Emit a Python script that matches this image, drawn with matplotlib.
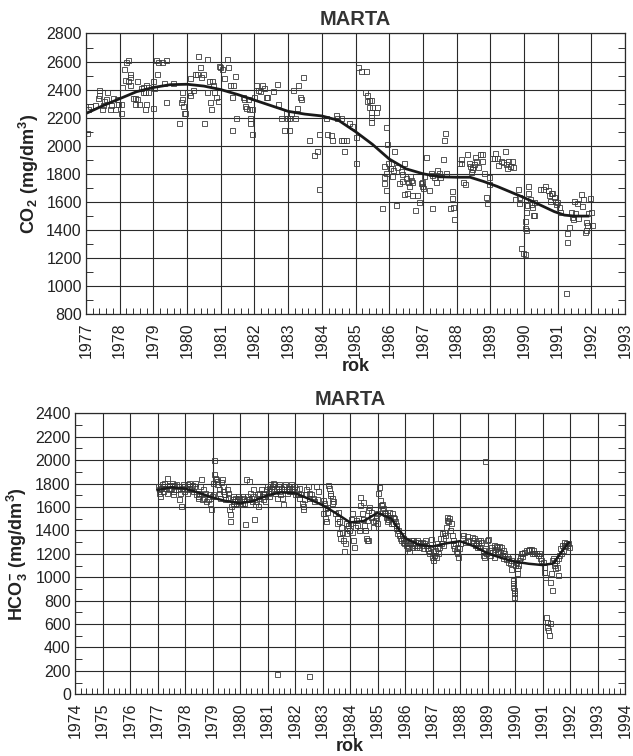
import numpy as np
import matplotlib
matplotlib.use("Agg")
import matplotlib.pyplot as plt
from matplotlib.ticker import MultipleLocator

plt.rcParams['font.family'] = ['Liberation Sans', 'DejaVu Sans']
plt.rcParams['mathtext.fontset'] = 'custom'
plt.rcParams['mathtext.rm'] = 'Liberation Sans'
plt.rcParams['mathtext.bf'] = 'Liberation Sans:bold'

co2_obs = [
    (1977.04,2090),(1977.07,2260),(1977.12,2280),(1977.27,2290),(1977.39,2400),(1977.40,2360),(1977.36,2340),
    (1977.46,2260),(1977.49,2290),(1977.59,2330),(1977.63,2380),(1977.53,2320),(1977.71,2260),(1977.73,2290),
    (1977.86,2260),(1977.81,2340),(1977.91,2330),(1977.96,2300),(1978.03,2300),(1978.03,2230),(1978.06,2420),
    (1978.13,2550),(1978.16,2470),(1978.19,2600),(1978.25,2610),(1978.25,2460),(1978.30,2510),(1978.32,2490),
    (1978.32,2430),(1978.38,2340),(1978.44,2340),(1978.45,2300),(1978.52,2460),(1978.50,2330),(1978.58,2300),
    (1978.62,2410),(1978.68,2420),(1978.70,2380),(1978.76,2380),(1978.78,2430),(1978.83,2380),(1978.76,2260),
    (1978.77,2300),(1978.85,2420),(1978.98,2460),(1979.00,2270),(1979.01,2410),(1979.09,2610),(1979.11,2510),
    (1979.14,2600),(1979.27,2600),(1979.36,2610),(1979.31,2450),(1979.36,2310),(1979.57,2450),(1979.76,2160),
    (1979.81,2310),(1979.84,2380),(1979.86,2330),(1979.88,2280),(1979.90,2230),(1979.94,2230),(1980.05,2380),
    (1980.08,2480),(1980.10,2360),(1980.18,2400),(1980.24,2510),(1980.28,2510),(1980.33,2640),(1980.38,2560),
    (1980.41,2490),(1980.46,2510),(1980.50,2160),(1980.58,2620),(1980.60,2380),(1980.65,2460),(1980.67,2310),
    (1980.71,2260),(1980.73,2460),(1980.77,2430),(1980.80,2380),(1980.87,2350),(1980.92,2320),(1980.95,2570),
    (1980.99,2560),(1981.05,2550),(1981.09,2480),(1981.17,2620),(1981.22,2560),(1981.27,2430),(1981.32,2350),
    (1981.34,2110),(1981.37,2430),(1981.42,2500),(1981.46,2200),(1981.66,2350),(1981.68,2330),(1981.72,2280),
    (1981.76,2270),(1981.81,2330),(1981.84,2260),(1981.88,2200),(1981.88,2160),(1981.92,2080),(1981.94,2260),
    (1981.98,2350),(1982.04,2430),(1982.11,2400),(1982.16,2390),(1982.23,2430),(1982.27,2410),(1982.33,2350),
    (1982.37,2350),(1982.55,2390),(1982.67,2440),(1982.70,2300),(1982.80,2200),(1982.87,2110),(1982.93,2230),
    (1982.97,2200),(1983.02,2110),(1983.04,2200),(1983.09,2230),(1983.14,2400),(1983.19,2200),(1983.26,2270),
    (1983.29,2430),(1983.34,2350),(1983.39,2330),(1983.44,2490),(1983.62,2040),(1983.78,1930),(1983.85,1960),
    (1983.91,1690),(1983.93,2080),(1984.15,2080),(1984.11,2200),
    (1984.26,2077),(1984.31,2041),(1984.41,2220),(1984.46,2196),(1984.56,2196),(1984.56,2041),(1984.63,2041),
    (1984.71,2041),(1984.65,1965),(1984.81,2160),(1984.91,2137),(1985.00,2060),(1985.00,1880),(1985.08,2564),
    (1985.15,2536),(1985.30,2536),(1985.27,2386),(1985.33,2362),(1985.35,2322),(1985.40,2327),(1985.45,2327),
    (1985.40,2279),(1985.50,2279),(1985.65,2279),(1985.45,2243),(1985.60,2243),(1985.45,2208),(1985.47,2172),
    (1985.89,2132),(1985.94,2013),(1986.15,1965),(1985.84,1856),(1985.97,1875),(1986.04,1880),(1986.01,1839),
    (1985.89,1804),(1985.84,1775),(1985.84,1733),(1985.89,1686),(1986.11,1827),(1986.09,1785),(1986.24,1846),
    (1986.34,1822),(1986.39,1799),(1986.44,1880),(1986.29,1737),(1986.39,1751),(1986.51,1768),(1986.57,1744),
    (1986.59,1709),(1986.63,1785),(1986.66,1756),(1986.68,1744),(1986.44,1654),(1986.54,1661),(1986.68,1649),
    (1986.83,1649),(1986.88,1601),(1986.78,1542),(1986.93,1733),(1986.98,1744),(1986.96,1709),(1987.00,1697),
    (1987.03,1785),(1987.08,1918),(1987.18,1686),(1987.23,1808),(1987.28,1792),(1987.33,1775),(1987.38,1744),
    (1987.42,1827),(1987.47,1804),(1987.52,1780),(1987.59,1906),(1987.70,1804),(1986.19,1578),(1985.78,1554),
    (1987.28,1554),(1987.62,2041),(1987.65,2089),
    (1987.85,1677),(1987.85,1624),(1987.90,1565),(1987.80,1553),(1987.93,1475),(1988.08,1874),(1988.13,1874),
    (1988.13,1903),(1988.20,1743),(1988.26,1727),(1988.30,1941),(1988.36,1874),(1988.40,1855),(1988.42,1815),
    (1988.45,1831),(1988.47,1850),(1988.52,1869),(1988.55,1917),(1988.59,1891),(1988.65,1846),(1988.69,1941),
    (1988.75,1941),(1988.75,1893),(1988.82,1807),(1988.87,1636),(1988.89,1589),(1988.95,1727),(1988.97,1774),
    (1989.05,1910),(1989.12,1910),(1989.15,1950),(1989.21,1910),(1989.24,1862),(1989.31,1893),(1989.38,1881),
    (1989.44,1964),(1989.46,1869),(1989.51,1838),(1989.54,1893),(1989.58,1855),(1989.64,1893),(1989.68,1846),
    (1989.74,1617),(1989.81,1689),(1989.84,1636),(1989.86,1589),(1989.91,1268),(1989.98,1232),(1990.03,1227),
    (1990.03,1465),(1990.07,1399),(1990.03,1411),(1990.07,1529),(1990.10,1577),(1990.13,1712),(1990.13,1665),
    (1990.17,1617),(1990.20,1584),(1990.23,1565),(1990.27,1506),(1990.30,1506),(1990.30,1601),(1990.47,1689),
    (1990.57,1689),(1990.63,1712),(1990.70,1684),(1990.75,1648),(1990.77,1608),(1990.80,1665),(1990.84,1660),
    (1990.89,1636),(1990.92,1608),(1990.96,1584),(1990.99,1601),(1991.04,1560),(1991.06,1529),(1991.24,947),
    (1991.29,1375),(1991.34,1422),(1991.29,1316),(1991.39,1529),(1991.44,1489),(1991.46,1475),(1991.49,1608),
    (1991.52,1522),(1991.56,1593),(1991.61,1482),(1991.68,1655),(1991.71,1570),(1991.75,1617),(1991.83,1399),
    (1991.81,1387),(1991.83,1458),(1991.88,1434),(1991.91,1517),(1991.95,1624),(1991.98,1529),(1992.01,1434),
]

co2_trend_years = [1977.0, 1977.5, 1978.0, 1978.5, 1979.0, 1979.5, 1980.0, 1980.5, 1981.0, 1981.5,
                   1982.0, 1982.5, 1983.0, 1983.5, 1984.0, 1984.5, 1985.0, 1985.5, 1986.0, 1986.5,
                   1987.0, 1987.5, 1988.0, 1988.4, 1988.8, 1989.2, 1989.6, 1990.0, 1990.5, 1990.9,
                   1991.2, 1991.5, 1991.9]
co2_trend = [2230, 2285, 2335, 2385, 2415, 2435, 2438, 2425, 2400, 2365,
             2325, 2285, 2245, 2225, 2212, 2180, 2100, 2010, 1905, 1835,
             1800, 1778, 1775, 1775, 1745, 1710, 1670, 1630, 1575, 1530,
             1505, 1498, 1498]

# --- HCO3- observations (year, mg/dm3) ---
hco3_obs = [
    (1977.00,1778),(1977.04,1750),(1977.06,1721),(1977.08,1693),(1977.12,1764),(1977.16,1792),(1977.21,1735),
    (1977.24,1807),(1977.28,1764),(1977.33,1849),(1977.36,1721),(1977.40,1784),(1977.42,1750),(1977.49,1764),
    (1977.52,1807),(1977.55,1707),(1977.57,1735),(1977.61,1784),(1977.64,1755),(1977.67,1792),(1977.73,1750),
    (1977.76,1778),(1977.79,1670),(1977.81,1721),(1977.85,1607),(1977.89,1764),(1977.91,1792),(1977.95,1735),
    (1977.98,1778),(1978.03,1750),(1978.06,1792),(1978.09,1721),(1978.13,1764),(1978.15,1807),(1978.21,1750),
    (1978.25,1784),(1978.30,1735),(1978.33,1778),(1978.37,1807),(1978.40,1707),(1978.46,1693),(1978.49,1679),
    (1978.52,1721),(1978.54,1778),(1978.58,1835),(1978.61,1664),(1978.64,1750),(1978.70,1679),(1978.74,1721),
    (1978.78,1650),(1978.82,1664),(1978.86,1707),(1978.91,1636),(1978.94,1579),(1978.98,1693),(1979.00,1807),
    (1979.03,1707),(1979.06,2000),(1979.06,1878),(1979.10,1849),(1979.12,1841),(1979.16,1821),(1979.18,1792),
    (1979.22,1750),(1979.25,1721),(1979.28,1679),(1979.31,1812),(1979.34,1835),(1979.37,1778),(1979.39,1735),
    (1979.43,1707),(1979.46,1670),(1979.51,1750),(1979.55,1721),(1979.58,1687),(1979.61,1579),(1979.63,1536),
    (1979.65,1479),(1979.67,1607),(1979.71,1664),(1979.73,1636),(1979.75,1693),(1979.79,1650),(1979.83,1679),
    (1979.85,1636),(1979.88,1664),(1979.91,1693),(1979.95,1650),(1979.97,1679),(1980.00,1622),(1980.03,1664),
    (1980.07,1636),(1980.09,1693),(1980.12,1679),(1980.16,1636),(1980.19,1451),(1980.22,1835),(1980.24,1693),
    (1980.28,1664),(1980.31,1821),(1980.34,1664),(1980.36,1721),(1980.40,1679),(1980.43,1650),(1980.46,1693),
    (1980.48,1750),(1980.52,1494),(1980.56,1622),(1980.58,1650),(1980.60,1707),(1980.64,1607),(1980.68,1679),
    (1980.70,1721),(1980.76,1750),(1980.80,1693),(1980.82,1721),(1980.85,1664),(1980.88,1707),(1980.92,1650),
    (1980.94,1750),(1980.97,1778),(1981.00,1721),(1981.04,1764),(1981.07,1693),(1981.09,1792),(1981.13,1735),
    (1981.16,1778),(1981.19,1807),(1981.21,1750),(1981.25,1792),(1981.28,1721),(1981.31,1764),(1981.34,1679),
    (1981.37,1778),(1981.41,1735),(1981.43,1792),(1981.45,1707),(1981.49,1764),(1981.53,1679),(1981.55,1622),
    (1981.58,1750),(1981.61,1778),(1981.65,1792),(1981.67,1750),(1981.70,1721),(1981.73,1778),(1981.77,1764),
    (1981.79,1735),(1981.85,1792),(1981.89,1764),(1981.94,1735),(1981.98,1778),(1982.01,1707),(1982.04,1750),
    (1982.10,1707),(1982.13,1679),(1982.16,1764),(1982.22,1707),(1982.25,1636),(1982.28,1607),(1982.30,1579),
    (1982.34,1664),(1982.38,1707),(1982.40,1750),(1982.46,1778),(1982.50,1721),(1982.52,1679),(1982.58,1707),
    (1982.64,1679),(1982.70,1650),(1982.76,1778),(1982.79,1664),(1982.83,1735),(1981.33,171),(1982.52,160),
    (1983.00,1661),(1983.05,1632),(1983.08,1589),(1983.02,1547),(1983.08,1504),(1983.12,1476),(1983.15,1561),
    (1983.17,1604),(1983.21,1789),(1983.24,1760),(1983.27,1723),(1983.29,1703),(1983.33,1675),(1983.36,1632),
    (1983.39,1655),(1983.45,1547),(1983.51,1504),(1983.53,1467),(1983.57,1561),(1983.61,1476),(1983.61,1376),
    (1983.63,1333),(1983.66,1433),(1983.70,1390),(1983.75,1319),(1983.78,1228),(1983.81,1291),(1983.85,1461),
    (1983.87,1376),(1983.90,1419),(1983.93,1447),(1983.97,1404),(1984.00,1467),(1984.02,1496),(1984.06,1547),
    (1984.09,1390),(1984.12,1319),(1984.14,1262),(1984.18,1433),(1984.21,1490),(1984.24,1447),(1984.30,1504),
    (1984.33,1404),(1984.36,1689),(1984.38,1618),(1984.42,1547),(1984.46,1646),(1984.48,1496),(1984.50,1447),
    (1984.54,1404),(1984.58,1333),(1984.60,1319),(1984.63,1490),(1984.66,1319),(1984.66,1575),(1984.70,1604),
    (1984.75,1561),(1984.78,1518),(1984.82,1476),(1984.85,1433),(1984.91,1490),(1984.94,1518),(1984.97,1461),
    (1984.99,1547),(1985.03,1717),(1985.05,1769),(1985.09,1661),(1985.11,1618),(1985.15,1575),(1985.18,1626),
    (1985.21,1589),(1985.23,1561),(1985.27,1547),(1985.31,1518),(1985.33,1476),(1985.35,1533),(1985.39,1496),
    (1985.43,1561),(1985.45,1518),(1985.48,1461),(1985.51,1547),(1985.55,1518),(1985.57,1461),(1985.60,1504),
    (1985.63,1476),(1985.67,1447),(1985.69,1419),(1985.72,1376),(1985.75,1404),(1985.79,1362),(1985.82,1333),
    (1985.84,1319),(1985.88,1362),(1985.91,1305),(1985.94,1333),(1985.96,1291),(1986.00,1319),(1986.03,1277),
    (1986.06,1248),(1986.08,1305),(1986.12,1262),(1986.16,1228),(1986.18,1291),(1986.20,1319),(1986.24,1262),
    (1986.28,1291),(1986.30,1319),(1986.33,1277),(1986.36,1305),(1986.40,1262),(1986.42,1319),(1986.45,1277),
    (1986.48,1305),(1986.52,1262),(1986.54,1291),(1986.60,1305),(1986.64,1277),(1986.67,1248),(1986.69,1291),
    (1986.73,1319),(1986.76,1277),(1986.79,1248),(1986.85,1234),(1986.88,1205),(1986.91,1262),(1986.93,1325),
    (1986.97,1177),(1987.00,1149),(1987.03,1220),(1987.05,1191),(1987.09,1234),(1987.13,1177),(1987.15,1248),
    (1987.17,1291),(1987.21,1205),(1987.25,1262),(1987.27,1333),(1987.30,1291),(1987.33,1376),(1987.37,1277),
    (1987.39,1333),(1987.42,1390),(1987.45,1362),(1987.49,1433),(1987.51,1490),(1987.54,1518),(1987.58,1476),
    (1987.61,1504),(1987.64,1404),(1987.66,1461),(1987.70,1362),(1987.73,1319),(1987.76,1277),(1987.78,1248),
    (1987.82,1291),(1987.85,1220),(1987.88,1262),(1987.90,1205),(1987.94,1177),(1987.98,1248),(1988.00,1291),
    (1988.06,1333),(1988.12,1362),(1988.18,1305),(1988.24,1348),(1988.30,1319),(1988.90,1993),
    (1988.42,1346),(1988.45,1317),(1988.49,1303),(1988.51,1331),(1988.54,1275),(1988.58,1289),(1988.61,1261),
    (1988.64,1317),(1988.66,1289),(1988.70,1261),(1988.73,1317),(1988.78,1303),(1988.82,1189),(1988.85,1232),
    (1988.88,1175),(1988.90,1246),(1988.94,1204),(1988.98,1317),(1989.02,1323),(1989.06,1232),(1989.10,1189),
    (1989.12,1261),(1989.18,1218),(1989.22,1275),(1989.24,1175),(1989.27,1238),(1989.30,1266),(1989.34,1204),
    (1989.36,1255),(1989.39,1227),(1989.42,1266),(1989.46,1218),(1989.49,1255),(1989.51,1189),(1989.55,1232),
    (1989.58,1161),(1989.61,1204),(1989.67,1153),(1989.70,1181),(1989.73,1133),(1989.75,1161),(1989.83,1118),
    (1989.85,1067),(1989.87,1147),(1989.91,948),(1989.93,919),(1989.95,891),(1989.96,862),(1989.97,834),
    (1989.92,976),(1990.00,1104),(1990.03,1133),(1990.07,1076),(1990.09,1033),(1990.12,1104),(1990.15,1147),
    (1990.19,1175),(1990.21,1204),(1990.24,1181),(1990.27,1209),(1990.31,1218),(1990.40,1232),(1990.46,1232),
    (1990.52,1238),(1990.58,1238),(1990.60,1209),(1990.64,1232),(1990.70,1204),(1990.76,1209),(1990.82,1189),
    (1990.88,1204),(1990.92,1161),(1990.94,1147),(1991.00,1133),(1991.04,1090),(1991.06,1047),(1991.09,1005),
    (1991.12,663),(1991.16,620),(1991.18,578),(1991.21,549),(1991.23,507),(1991.26,606),(1991.28,962),
    (1991.31,1033),(1991.33,891),(1991.33,1147),(1991.37,1161),(1991.40,1104),(1991.43,1133),(1991.45,1076),
    (1991.49,1147),(1991.52,1090),(1991.55,1019),(1991.57,1161),(1991.61,1189),(1991.65,1246),(1991.67,1209),
    (1991.71,1275),(1991.73,1232),(1991.77,1303),(1991.79,1275),(1991.82,1266),(1991.85,1289),(1991.89,1275),
    (1991.94,1295),(1991.97,1261),
]

hco3_trend_years = [1977.0, 1977.5, 1978.0, 1978.5, 1979.0, 1979.5, 1980.0, 1980.5, 1981.0, 1981.5,
                    1982.0, 1982.5, 1983.0, 1983.5, 1984.0, 1984.5, 1985.0, 1985.5, 1986.0, 1986.5,
                    1987.0, 1987.5, 1988.0, 1988.5, 1989.0, 1989.5, 1990.0, 1990.5, 1991.0, 1991.4,
                    1991.7, 1991.95]
hco3_trend = [1745, 1768, 1757, 1722, 1680, 1650, 1632, 1652, 1700, 1725,
              1718, 1670, 1615, 1545, 1468, 1480, 1550, 1500, 1335, 1278,
              1262, 1290, 1308, 1265, 1205, 1165, 1133, 1115, 1104, 1118,
              1218, 1295]


def style_axes(ax, x0, x1, y0, y1, ystep):
    ax.set_xlim(x0, x1)
    ax.set_ylim(y0, y1)
    ax.set_xticks(range(x0, x1 + 1))
    ax.set_xticklabels([str(y) for y in range(x0, x1 + 1)], rotation=90)
    ax.xaxis.set_minor_locator(MultipleLocator(0.2))
    ax.yaxis.set_major_locator(MultipleLocator(ystep))
    ax.yaxis.set_minor_locator(MultipleLocator(ystep / 2))
    ax.grid(True, which='major', color='#2a2a2a', linewidth=0.8)
    ax.tick_params(axis='y', which='major', direction='in', length=0,
                   labelsize=11.5, labelcolor='#222222', pad=3)
    ax.tick_params(axis='x', which='major', direction='in', length=0,
                   labelsize=11.5, labelcolor='#222222', pad=6)
    ax.tick_params(axis='x', which='minor', direction='in', length=4, width=0.7,
                   color='#333333', bottom=True, top=False)
    ax.tick_params(axis='y', which='minor', direction='in', length=5, width=0.7,
                   color='#333333', left=True, right=True)
    for s in ax.spines.values():
        s.set_color('#2a2a2a')
        s.set_linewidth(0.9)
    ax.set_axisbelow(True)


fig = plt.figure(figsize=(6.33, 7.56), dpi=100)

# --- CO2 panel ---
ax1 = fig.add_axes([0.1359, 0.5847, 0.8515, 0.371])
cx, cy = zip(*co2_obs)
ax1.plot(cx, cy, linestyle='none', marker='s', markersize=3.6, markerfacecolor='none',
         markeredgecolor='#3a3a3a', markeredgewidth=0.6)
ax1.plot(co2_trend_years, co2_trend, color='#1a1a1a', linewidth=2.0)
style_axes(ax1, 1977, 1993, 800, 2800, 200)
ax1.set_title('MARTA', fontsize=14.5, fontweight='bold', color='#333333', pad=6)
ax1.set_ylabel(r'$\mathbf{CO_2\ (mg/dm^3)}$', fontsize=13, color='#222222', labelpad=4)
ax1.set_xlabel('rok', fontsize=13, fontweight='bold', color='#222222', labelpad=0)

# --- HCO3 panel ---
ax2 = fig.add_axes([0.1185, 0.0816, 0.8689, 0.3717])
hx, hy = zip(*hco3_obs)
ax2.plot(hx, hy, linestyle='none', marker='s', markersize=3.6, markerfacecolor='none',
         markeredgecolor='#3a3a3a', markeredgewidth=0.6)
ax2.plot(hco3_trend_years, hco3_trend, color='#1a1a1a', linewidth=1.8)
style_axes(ax2, 1974, 1994, 0, 2400, 200)
ax2.set_title('MARTA', fontsize=14.5, fontweight='bold', color='#333333', pad=6)
ax2.set_ylabel(r'$\mathbf{HCO_3^{-}\ (mg/dm^3)}$', fontsize=13, color='#222222', labelpad=4)
ax2.set_xlabel('rok', fontsize=13, fontweight='bold', color='#222222', labelpad=0)

fig.savefig('out.png', dpi=100, facecolor='white')
